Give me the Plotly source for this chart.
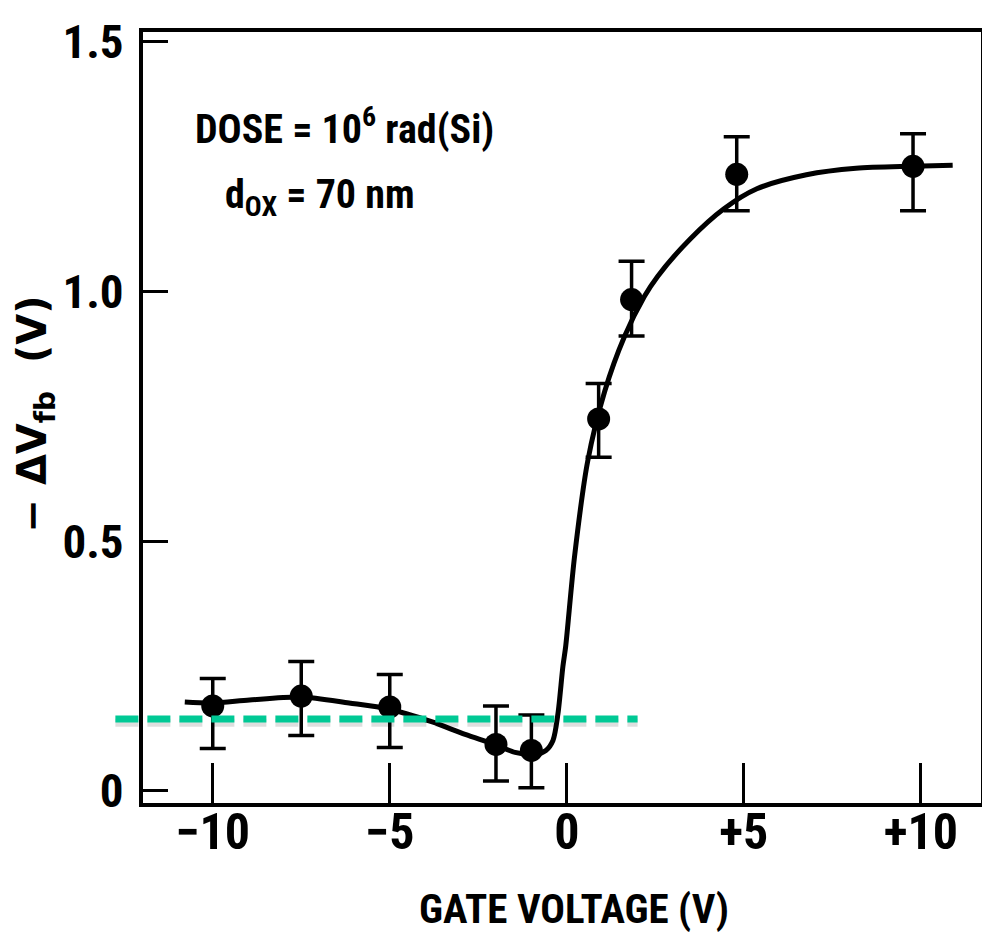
import plotly.graph_objects as go

# ---- data ----
gate_v = [-10.0, -7.5, -5.0, -2.0, -1.0, 0.9, 1.83, 4.8, 9.78]
dvfb = [0.170, 0.190, 0.168, 0.093, 0.081, 0.745, 0.984, 1.235, 1.251]
err_top = [0.225, 0.259, 0.233, 0.170, 0.152, 0.816, 1.061, 1.310, 1.316]
err_bot = [0.085, 0.111, 0.087, 0.020, 0.006, 0.668, 0.911, 1.162, 1.162]

curve_x = [-10.79, -10.0, -8.96, -7.5, -6.15, -5.03, -3.8, -2.87, -2.02, -1.46, -0.9,
           -0.59, -0.39, -0.25, -0.11, -0.03, 0.22, 0.59, 1.07, 1.63, 2.19, 2.56,
           3.48, 4.44, 5.37, 6.77, 8.17, 9.78, 10.9]
curve_y = [0.178, 0.176, 0.182, 0.188, 0.176, 0.164, 0.138, 0.113, 0.093, 0.077, 0.073,
           0.081, 0.101, 0.154, 0.249, 0.29, 0.47, 0.66, 0.80, 0.91, 0.99, 1.03,
           1.105, 1.166, 1.206, 1.234, 1.247, 1.251, 1.253]

x_tickvals = [-10, -5, 0, 5, 10]
x_ticktext = ["\u221210", "\u22125", "0", "+5", "+10"]
y_tickvals = [0, 0.5, 1.0, 1.5]
y_ticktext = ["0", "0.5", "1.0", "1.5"]

ref_level = 0.144
ref_x = [-12.75, 2.0]

x_range = [-11.97, 11.7]
y_range = [-0.0243, 1.520]

FONT = "Roboto Condensed, Liberation Sans Narrow, Liberation Sans, Arial, sans-serif"
WIDE = "DejaVu Sans, sans-serif"

err_plus = [t - v for t, v in zip(err_top, dvfb)]
err_minus = [v - b for v, b in zip(dvfb, err_bot)]

fig = go.Figure()
fig.add_trace(go.Scatter(
    x=curve_x, y=curve_y, mode="lines",
    line=dict(color="black", width=5, shape="spline", smoothing=0.8),
    hoverinfo="skip", showlegend=False))
fig.add_trace(go.Scatter(
    x=gate_v, y=dvfb, mode="markers",
    marker=dict(color="black", size=23, symbol="circle"),
    error_y=dict(type="data", symmetric=False, array=err_plus, arrayminus=err_minus,
                 color="black", thickness=3.5, width=13),
    showlegend=False))


def px(v):
    return (v - x_range[0]) / (x_range[1] - x_range[0])


def py(v):
    return (v - y_range[0]) / (y_range[1] - y_range[0])


# shadow of the dashed reference line
fig.add_shape(type="line", xref="paper", yref="paper",
              x0=px(ref_x[0]), x1=px(ref_x[1]),
              y0=py(ref_level) - 0.005, y1=py(ref_level) - 0.005,
              line=dict(color="rgba(0,0,0,0.13)", width=8, dash="23px,9px"))
fig.add_shape(type="line", xref="paper", yref="paper",
              x0=px(ref_x[0]), x1=px(ref_x[1]),
              y0=py(ref_level), y1=py(ref_level),
              line=dict(color="#00C995", width=7, dash="23px,9px"))

fig.add_annotation(xref="x", yref="y", x=-10.55, y=1.33, xanchor="left", yanchor="middle",
                   text="<b>DOSE = 10<sup>6</sup> rad(Si)</b>", showarrow=False,
                   font=dict(family=FONT, size=40, color="black"))
fig.add_annotation(xref="x", yref="y", x=-9.7, y=1.19, xanchor="left", yanchor="middle",
                   text="<b>d<sub>OX</sub> = 70 nm</b>", showarrow=False,
                   font=dict(family=FONT, size=40, color="black"))
fig.add_annotation(xref="paper", yref="paper", x=0.514, y=-0.1717, xanchor="center",
                   yanchor="bottom", text="<b>GATE VOLTAGE (V)</b>", showarrow=False,
                   font=dict(family=FONT, size=41, color="black"))
fig.add_annotation(xref="paper", yref="paper", x=-0.129, y=0.505, xanchor="center",
                   yanchor="middle", textangle=-90,
                   text="<b>\u2212\u00a0\u0394V<sub>fb</sub>\u00a0\u00a0(V)</b>", showarrow=False,
                   font=dict(family=WIDE, size=40, color="black"))

fig.update_xaxes(range=x_range, tickvals=x_tickvals, ticktext=x_ticktext,
                 ticks="inside", ticklen=40, tickwidth=3, tickcolor="black",
                 showline=True, linewidth=4, linecolor="black", mirror=True,
                 showgrid=False, zeroline=False, ticklabelstandoff=-18,
                 tickfont=dict(family=FONT, size=50, color="black", weight="bold"))
fig.update_yaxes(range=y_range, tickvals=y_tickvals, ticktext=y_ticktext,
                 ticks="inside", ticklen=25, tickwidth=3, tickcolor="black",
                 showline=True, linewidth=4, linecolor="black", mirror=True,
                 showgrid=False, zeroline=False, ticklabelstandoff=6,
                 tickfont=dict(family=FONT, size=47, color="black", weight="bold"))

# page body has an 8px margin: size/margins compensate so the plot box lands on the reference
fig.update_layout(width=982, height=926,
                  margin=dict(l=135, r=5, t=24, b=131),
                  plot_bgcolor="white", paper_bgcolor="white")

fig.write_html("out.html")
